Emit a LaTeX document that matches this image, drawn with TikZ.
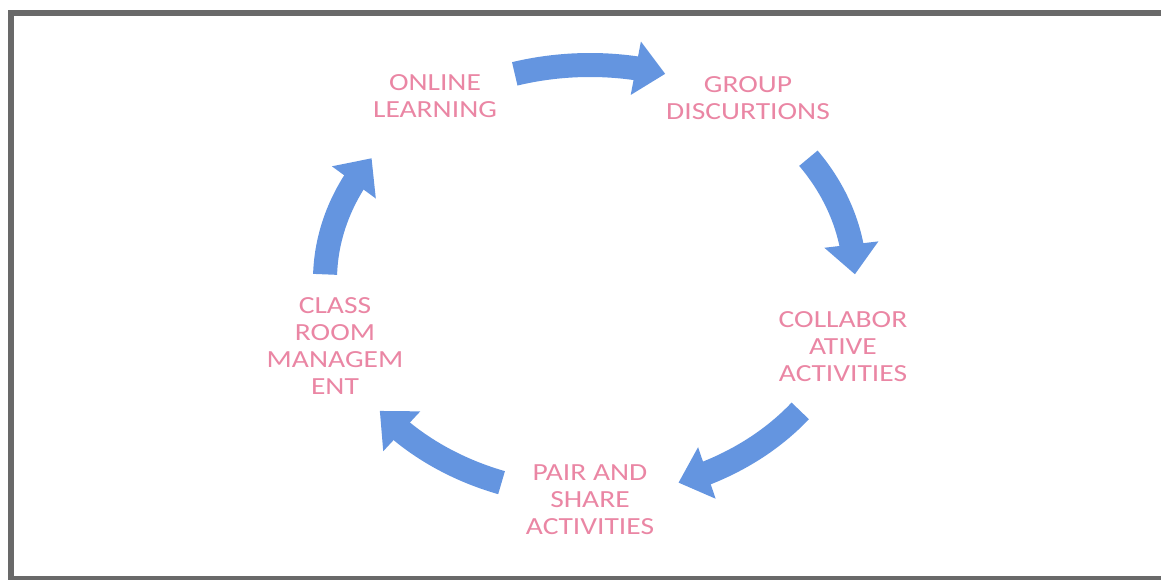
\documentclass[tikz,border=0pt]{standalone}
\usepackage{fontspec}
\setmainfont{Carlito}[FakeStretch=1.2]
\usepackage{tikz}
\usetikzlibrary{arrows.meta, bending}
\usetikzlibrary{calc}
\usepackage{color}

\definecolor{cycleblue}{RGB}{100,149,224}
\definecolor{labelpink}{RGB}{234,134,164}
\definecolor{framegray}{RGB}{105,105,105}

\tikzset{
    steplabel/.style={text=labelpink, align=center, inner sep=0pt,
        font=\fontsize{14}{15.4}\selectfont},
    cyclearrow/.style={cycleblue, line width=0.48cm, line cap=butt,
        -{Triangle[width=1.05cm, length=0.6cm]}}
}

\begin{document}
\begin{tikzpicture}
    % Frame
    \useasboundingbox (0,0) rectangle (23.22,11.58);
    \draw[framegray, line width=0.12cm] (0.21,0.01) rectangle (23.32,11.32);

    \coordinate (c) at (11.8,5.98);

    % Steps of the cycle
    \node[steplabel] (ol) at (8.7,9.66) {ONLINE\\LEARNING};
    \node[steplabel] (gd) at (14.96,9.62) {GROUP\\DISCURTIONS};
    \node[steplabel] (ca) at (16.86,4.64) {COLLABOR\\ATIVE\\ACTIVITIES};
    \node[steplabel] (ps) at (11.8,1.58) {PAIR AND\\SHARE\\ACTIVITIES};
    \node[steplabel] (cr) at (6.7,4.66) {CLASS\\ROOM\\MANAGEM\\ENT};

    % Arrow tails on the ellipse
    \coordinate (a1) at ($(c)+(106.5:5.3 and 4.3)$);
    \coordinate (a2) at ($(c)+(34.5:5.3 and 4.3)$);
    \coordinate (a3) at ($(c)+(-37.5:5.3 and 4.3)$);
    \coordinate (a4) at ($(c)+(-109.5:5.3 and 4.3)$);
    \coordinate (a5) at ($(c)+(178.5:5.3 and 4.3)$);

    \draw[cyclearrow] (a1) arc[start angle=106.5, end angle=73.5, x radius=5.3, y radius=4.3];
    \draw[cyclearrow] (a2) arc[start angle=34.5, end angle=1.5, x radius=5.3, y radius=4.3];
    \draw[cyclearrow] (a3) arc[start angle=-37.5, end angle=-70.5, x radius=5.3, y radius=4.3];
    \draw[cyclearrow] (a4) arc[start angle=-109.5, end angle=-142.5, x radius=5.3, y radius=4.3];
    \draw[cyclearrow] (a5) arc[start angle=178.5, end angle=145.5, x radius=5.3, y radius=4.3];

\end{tikzpicture}
\end{document}
